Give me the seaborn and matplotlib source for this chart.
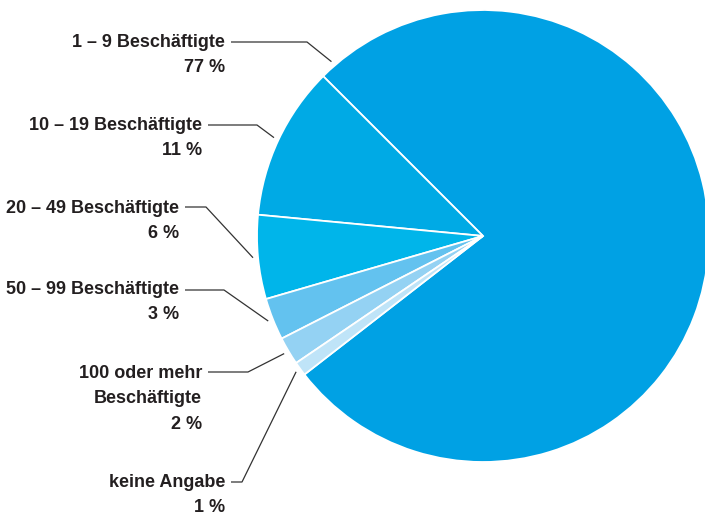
# Beschäftigte nach Betriebsgröße -> Kreisdiagramm mit Beschriftungen links

import numpy as np
import matplotlib
matplotlib.use("Agg")
import matplotlib.pyplot as plt
import seaborn as sns

sns.set_theme(style="white")
plt.rcParams["font.family"] = ["Liberation Sans Narrow", "Liberation Sans", "DejaVu Sans"]
plt.rcParams["font.weight"] = "bold"

# Daten
kategorien = ["1 – 9 Beschäftigte", "10 – 19 Beschäftigte", "20 – 49 Beschäftigte",
              "50 – 99 Beschäftigte", "100 oder mehr\nBeschäftigte", "keine Angabe"]
anteile = [77, 11, 6, 3, 2, 1]
prozent_text = ["77 %", "11 %", "6 %", "3 %", "2 %", "1 %"]
farben = ["#00A1E4", "#00AAE5", "#00B5EA", "#63C2EF", "#94D2F3", "#BFE4F8"]

# Layout (Pixel, y von oben)
W, H = 705, 516
text_x = [225, 202, 179, 179, 202, 225]
text_y = [47, 130, 213, 294, 378, 487]
linie_y = [42, 125, 207, 290, 372, 482]
knick_x = [307, 257, 206, 224, 248, 242]
zeilen = 25.3
textfarbe = "#231F20"

fig = plt.figure(figsize=(W / 100, H / 100), dpi=100)
ax = fig.add_axes([0, 0, 1, 1])

wedges, _ = ax.pie(anteile, colors=farben, startangle=135 - anteile[0] / 100 * 360,
                   counterclock=True, center=(483, H - 236), radius=226,
                   wedgeprops=dict(edgecolor="white", linewidth=1.3))
ax.set_xlim(0, W)
ax.set_ylim(0, H)
ax.set_aspect("auto")
ax.axis("off")

for i, w in enumerate(wedges):
    # Ankerpunkt knapp außerhalb des Kreises
    if i == 0:
        winkel = w.theta2 - 4
    else:
        winkel = (w.theta1 + w.theta2) / 2
    r = w.r + 5
    ex = w.center[0] + r * np.cos(np.radians(winkel))
    ey = w.center[1] + r * np.sin(np.radians(winkel))

    zeilen_liste = kategorien[i].split("\n") + [prozent_text[i]]
    for k, z in enumerate(zeilen_liste):
        ax.text(text_x[i], H - (text_y[i] + k * zeilen), z, ha="right", va="baseline",
                fontsize=13, fontweight="bold", color=textfarbe)

    ax.plot([text_x[i] + 6, knick_x[i], ex], [H - linie_y[i], H - linie_y[i], ey],
            color="#333333", lw=0.9, solid_capstyle="butt")

fig.savefig("out.png", dpi=100)
